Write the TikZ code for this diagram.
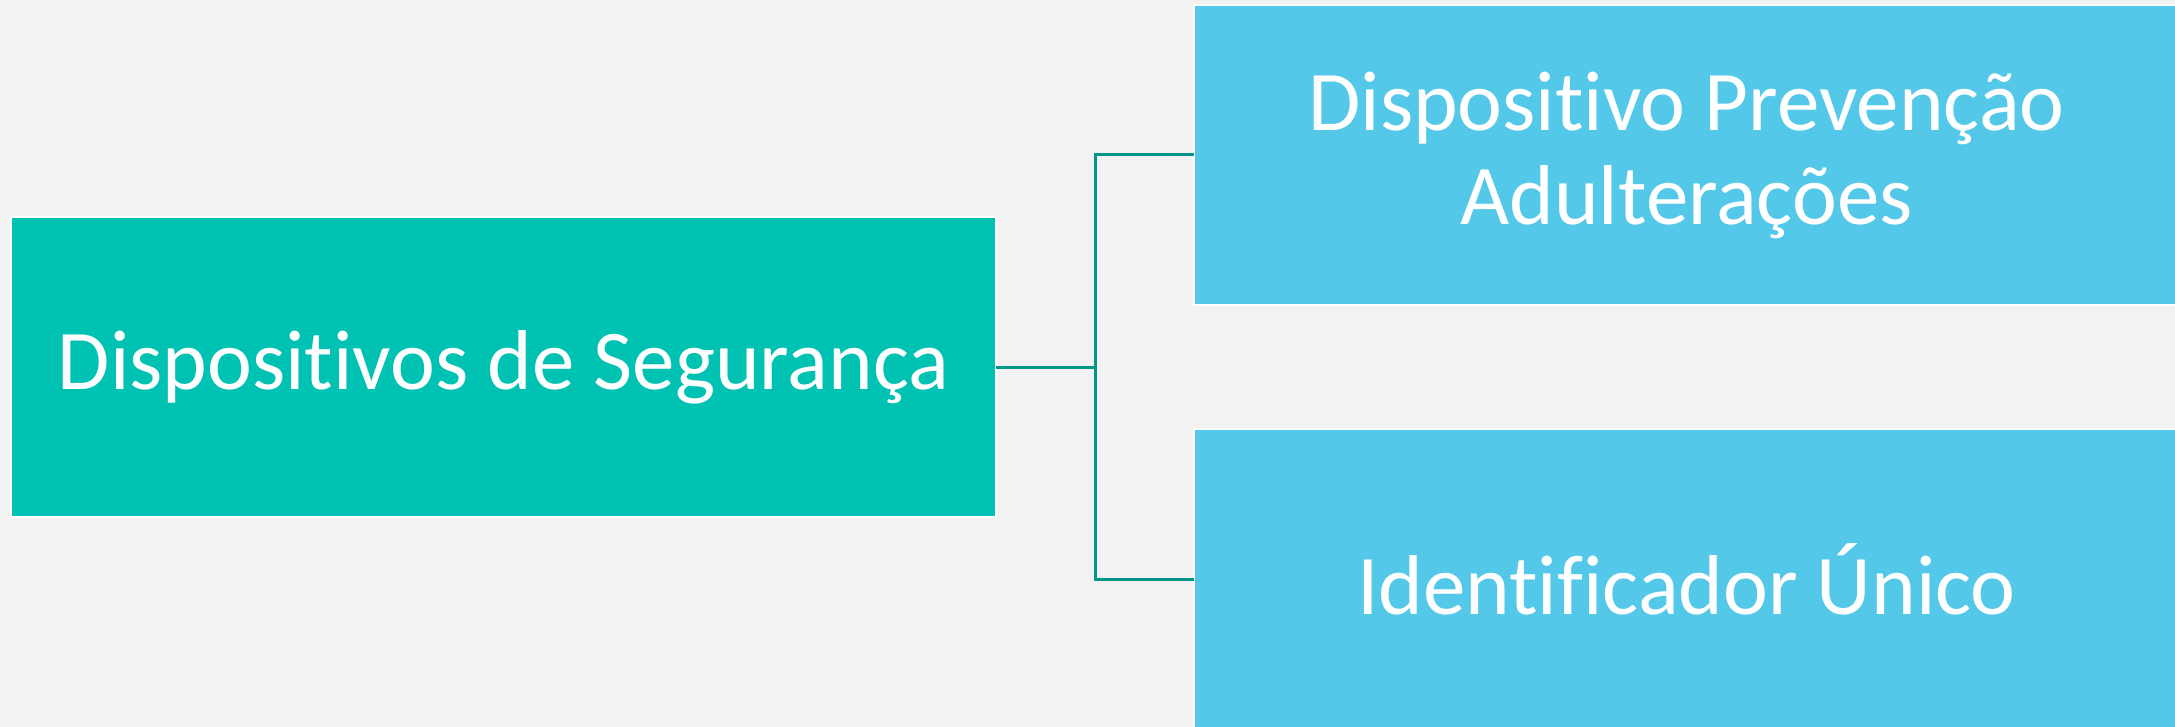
\documentclass[tikz,border=0pt]{standalone}
\usepackage{fontspec}
\setmainfont[Ligatures=NoCommon]{Carlito}
\definecolor{pagebg}{HTML}{F2F2F2}
\definecolor{rootfill}{HTML}{00C2B3}
\definecolor{leaffill}{HTML}{54C8E8}
\definecolor{linkcol}{HTML}{009688}
\tikzset{
  box/.style={rectangle, draw=white, line width=2pt, minimum width=985pt,
    minimum height=300pt, inner sep=0pt, outer sep=0pt, text=white,
    align=center, font=\fontsize{85}{94}\selectfont},
  rootbox/.style={box, fill=rootfill},
  leafbox/.style={box, fill=leaffill},
  link/.style={draw=linkcol, line width=3pt}
}
\begin{document}
\begin{tikzpicture}[x=1pt, y=-1pt]
  % canvas
  \fill[pagebg] (0,0) rectangle (2175,727);
  \useasboundingbox (0,0) rectangle (2175,727);
  \clip (0,0) rectangle (2175,727);

  % boxes
  \node[rootbox] (seg) at (503.5,367) {Dispositivos de Segurança};
  \node[leafbox] (prev) at (1686.5,155) {Dispositivo Prevenção\\Adulterações};
  \node[leafbox] (ident) at (1686.5,579) {Identificador Único};

  % elbow connectors
  \coordinate (j) at (1095,367);
  \draw[link] (seg.east) -- (j);
  \draw[link] (j) |- (prev.west);
  \draw[link] (j) |- (ident.west);
\end{tikzpicture}
\end{document}
